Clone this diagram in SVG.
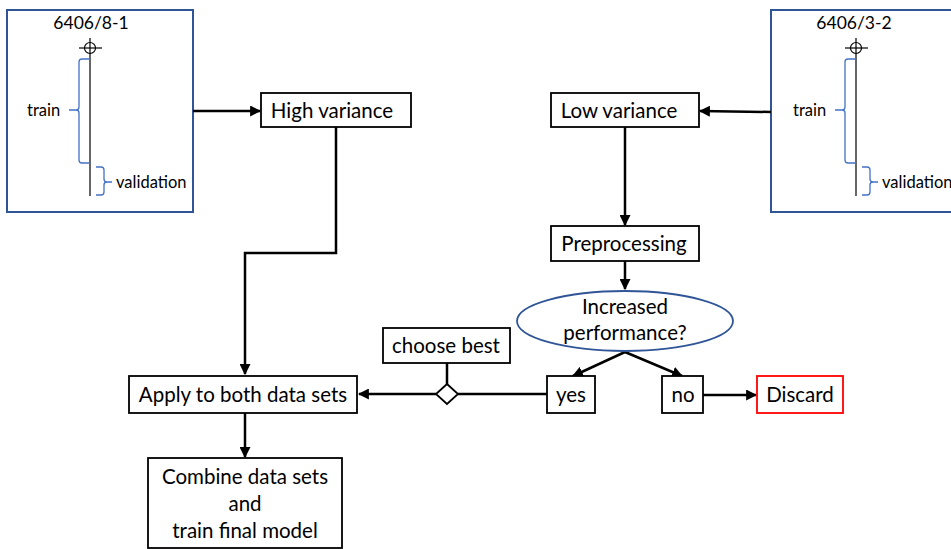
<svg xmlns="http://www.w3.org/2000/svg" width="951" height="549" viewBox="0 0 951 549">
  <defs>
    <style>
      text { font-family: Lato, "Liberation Sans", sans-serif; fill: #000; }
      .node { fill: #fff; stroke: #000; stroke-width: 1.8; }
      .panel { fill: #fff; stroke: #2F5597; stroke-width: 2; }
      .lbl { font-size: 20.5px; text-anchor: middle; dominant-baseline: central; }
      .small { font-size: 16.5px; }
      .title { font-size: 17.5px; text-anchor: middle; }
      .brace { fill: none; stroke: #4472C4; stroke-width: 1.3; }
      .axis { fill: none; stroke: #000; stroke-width: 1.2; }
      .conn { fill: none; stroke: #000; stroke-width: 2.5; }
    </style>
    <marker id="arrow" viewBox="0 0 10 10" refX="9" refY="5" markerWidth="4.4" markerHeight="4.4" orient="auto">
      <path d="M0,0 L10,5 L0,10 z" fill="#000"/>
    </marker>
    <!-- well log column with train / validation split -->
    <g id="log">
      <line class="axis" x1="90" y1="38" x2="90" y2="196"/>
      <circle class="axis" cx="90" cy="48" r="5.5"/>
      <line class="axis" x1="79" y1="48" x2="102" y2="48"/>
      <path class="brace" d="M90,59 L82,59 Q79,59 79,62 L79,107 Q79,110 76,110 L69,110 M76,110 Q79,110 79,113 L79,160 Q79,163 82,163 L90,163"/>
      <path class="brace" d="M96,167 L101,167 Q104,167 104,170 L104,179 Q104,182 107,182 L112,182 M107,182 Q104,182 104,185 L104,192 Q104,195 101,195 L96,195"/>
      <text class="small" x="27" y="116">train</text>
      <text class="small" x="116" y="188">validation</text>
    </g>
  </defs>

  <g id="well-left">
    <rect class="panel" x="7" y="10" width="186" height="202"/>
    <text class="title" x="91" y="29">6406/8-1</text>
    <use href="#log"/>
  </g>

  <g id="well-right">
    <rect class="panel" x="771" y="10" width="200" height="202"/>
    <text class="title" x="854" y="29">6406/3-2</text>
    <use href="#log" transform="translate(766,0)"/>
  </g>

  <g id="connectors">
    <line class="conn" x1="193" y1="111" x2="260" y2="111" marker-end="url(#arrow)"/>
    <line class="conn" x1="771" y1="112" x2="700" y2="111" marker-end="url(#arrow)"/>
    <polyline class="conn" points="336,127 336,253 245,253 245,374" marker-end="url(#arrow)"/>
    <line class="conn" x1="625" y1="127" x2="625" y2="225" marker-end="url(#arrow)"/>
    <line class="conn" x1="625" y1="261" x2="625" y2="289" marker-end="url(#arrow)"/>
    <line class="conn" x1="625" y1="352" x2="573" y2="376" marker-end="url(#arrow)"/>
    <line class="conn" x1="625" y1="352" x2="682" y2="376" marker-end="url(#arrow)"/>
    <line class="conn" x1="703" y1="395" x2="756" y2="395" marker-end="url(#arrow)"/>
    <line class="conn" x1="547" y1="394" x2="458" y2="394"/>
    <line class="conn" x1="436" y1="394" x2="359" y2="394" marker-end="url(#arrow)"/>
    <line class="conn" x1="447" y1="363" x2="447" y2="384"/>
    <line class="conn" x1="245" y1="413" x2="245" y2="457" marker-end="url(#arrow)"/>
  </g>

  <g id="high-variance">
    <rect class="node" x="261" y="93" width="150" height="34"/>
    <text class="lbl" x="332" y="110">High variance</text>
  </g>

  <g id="low-variance">
    <rect class="node" x="551" y="93" width="148" height="34"/>
    <text class="lbl" x="619" y="110">Low variance</text>
  </g>

  <g id="preprocessing">
    <rect class="node" x="551" y="226" width="148" height="35"/>
    <text class="lbl" x="624" y="243">Preprocessing</text>
  </g>

  <g id="increased-performance">
    <ellipse cx="625" cy="321" rx="108" ry="30" fill="#fff" stroke="#2F5597" stroke-width="1.8"/>
    <text class="lbl" x="625" y="306">Increased</text>
    <text class="lbl" x="625" y="332">performance?</text>
  </g>

  <g id="yes">
    <rect class="node" x="547" y="376" width="48" height="37"/>
    <text class="lbl" x="571" y="394">yes</text>
  </g>

  <g id="no">
    <rect class="node" x="662" y="376" width="41" height="37"/>
    <text class="lbl" x="683" y="394">no</text>
  </g>

  <g id="discard">
    <rect x="757" y="376" width="86" height="37" fill="#fff" stroke="#FF0000" stroke-width="1.8"/>
    <text class="lbl" x="800" y="394">Discard</text>
  </g>

  <g id="choose-best">
    <rect class="node" x="383" y="328" width="127" height="35"/>
    <text class="lbl" x="446" y="345">choose best</text>
  </g>

  <g id="merge">
    <path d="M447,384 L458,394 L447,404 L436,394 z" fill="#fff" stroke="#000" stroke-width="1.8"/>
  </g>

  <g id="apply-both">
    <rect class="node" x="129" y="376" width="228" height="37"/>
    <text class="lbl" x="243" y="394">Apply to both data sets</text>
  </g>

  <g id="combine-train">
    <rect class="node" x="148" y="458" width="194" height="90"/>
    <text class="lbl" x="245" y="476">Combine data sets</text>
    <text class="lbl" x="245" y="503">and</text>
    <text class="lbl" x="245" y="530">train final model</text>
  </g>
</svg>
